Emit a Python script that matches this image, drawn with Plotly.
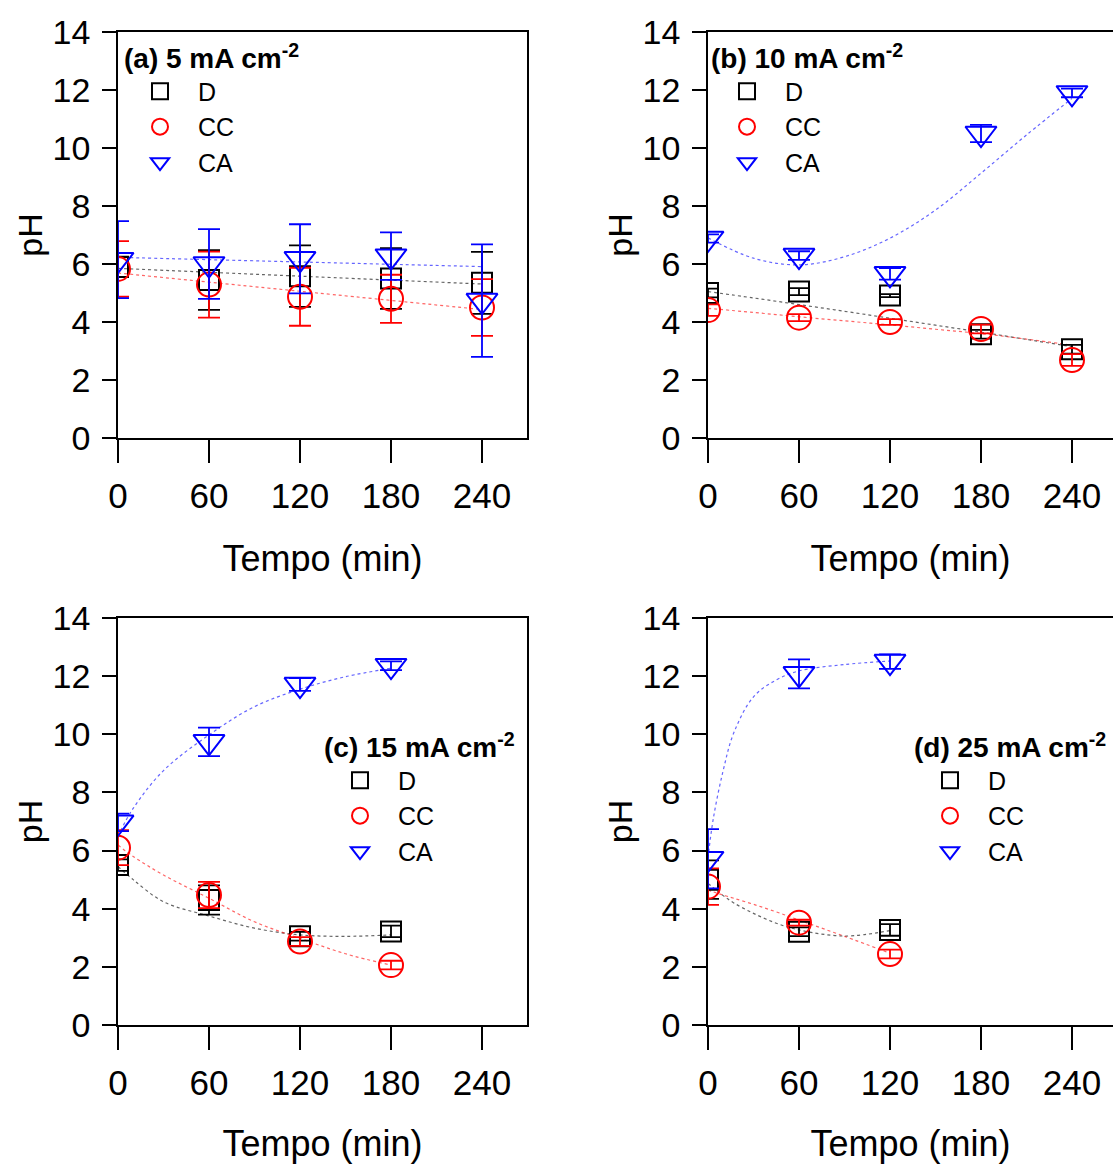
import plotly.graph_objects as go

# ---------------- data ----------------
t_a = [0, 60, 120, 180, 240]
t_b = [0, 60, 120, 180, 240]
t_c = [0, 60, 120, 180]
t_d = [0, 60, 120]

# (a) 5 mA cm-2
a_D = [5.90, 5.45, 5.58, 5.50, 5.35]
a_D_err = [0.35, 1.03, 1.06, 1.05, 1.07]
a_CC = [5.83, 5.29, 4.87, 4.80, 4.50]
a_CC_err = [0.96, 1.14, 1.00, 0.83, 0.98]
a_CA = [6.15, 6.00, 6.18, 6.27, 4.74]
a_CA_err = [1.33, 1.20, 1.19, 0.82, 1.94]

# (b) 10 mA cm-2
b_D = [5.00, 5.05, 4.91, 3.58, 3.06]
b_D_err = [0.15, 0.12, 0.05, 0.15, 0.15]
b_CC = [4.41, 4.15, 4.00, 3.76, 2.69]
b_CC_err = [0.20, 0.12, 0.10, 0.15, 0.20]
b_CA = [6.88, 6.29, 5.66, 10.50, 11.90]
b_CA_err = [0.14, 0.15, 0.20, 0.30, 0.15]

# (c) 15 mA cm-2
c_D = [5.50, 4.30, 3.05, 3.22]
c_D_err = [0.20, 0.50, 0.15, 0.20]
c_CC = [6.10, 4.47, 2.87, 2.06]
c_CC_err = [0.60, 0.45, 0.15, 0.15]
c_CA = [6.97, 9.74, 11.71, 12.36]
c_CA_err = [0.30, 0.49, 0.22, 0.15]

# (d) 25 mA cm-2
d_D = [5.00, 3.21, 3.27]
d_D_err = [0.66, 0.15, 0.20]
d_CC = [4.76, 3.52, 2.44]
d_CC_err = [0.63, 0.10, 0.15]
d_CA = [5.72, 12.08, 12.50]
d_CA_err = [1.02, 0.50, 0.25]

# fitted trend curves (time, pH)
a_fit_t = [0, 120, 240]
a_fit_D = [5.85, 5.58, 5.31]
a_fit_CC = [5.69, 5.06, 4.43]
a_fit_CA = [6.23, 6.07, 5.91]

b_fit_t = [0, 30, 60, 90, 120, 150, 180, 210, 240]
b_fit_D = [5.05, 4.83, 4.60, 4.37, 4.13, 3.89, 3.65, 3.40, 3.15]
b_fit_CC = [4.47, 4.33, 4.18, 4.04, 3.90, 3.75, 3.60, 3.41, 3.20]
b_fit_CA = [6.90, 6.20, 5.97, 6.25, 6.89, 7.86, 9.13, 10.45, 11.71]

c_fit_t = [0, 10, 30, 60, 90, 120, 150, 180]
c_fit_D = [5.45, 5.00, 4.24, 3.75, 3.33, 3.10, 3.05, 3.10]
c_fit_CC = [6.19, 5.80, 5.16, 4.36, 3.55, 2.98, 2.45, 2.06]
c_fit_CA = [6.50, 7.45, 8.75, 9.98, 10.95, 11.55, 11.98, 12.27]

d_fit_t = [0, 3.5, 10, 17, 30, 45, 60, 90, 120]
d_fit_D = [4.87, 4.72, 4.45, 4.20, 3.84, 3.50, 3.27, 3.06, 3.25]
d_fit_CC = [4.64, 4.58, 4.47, 4.36, 4.15, 3.89, 3.61, 3.05, 2.47]
d_fit_CA = [5.75, 7.10, 8.75, 10.05, 11.29, 11.87, 12.18, 12.40, 12.52]

series_names = ["D", "CC", "CA"]
colors = {"D": "#000000", "CC": "#FF0000", "CA": "#0000FF"}
symbols = {"D": "square-open", "CC": "circle-open", "CA": "triangle-down-open"}
sizes = {"D": 20, "CC": 24, "CA": 27}

panels = [
    dict(key="a", t=t_a, vals=[a_D, a_CC, a_CA], errs=[a_D_err, a_CC_err, a_CA_err],
         fit_t=a_fit_t, fits=[a_fit_D, a_fit_CC, a_fit_CA], title="(a) 5 mA cm<sup>-2</sup>"),
    dict(key="b", t=t_b, vals=[b_D, b_CC, b_CA], errs=[b_D_err, b_CC_err, b_CA_err],
         fit_t=b_fit_t, fits=[b_fit_D, b_fit_CC, b_fit_CA], title="(b) 10 mA cm<sup>-2</sup>"),
    dict(key="c", t=t_c, vals=[c_D, c_CC, c_CA], errs=[c_D_err, c_CC_err, c_CA_err],
         fit_t=c_fit_t, fits=[c_fit_D, c_fit_CC, c_fit_CA], title="(c) 15 mA cm<sup>-2</sup>"),
    dict(key="d", t=t_d, vals=[d_D, d_CC, d_CA], errs=[d_D_err, d_CC_err, d_CA_err],
         fit_t=d_fit_t, fits=[d_fit_D, d_fit_CC, d_fit_CA], title="(d) 25 mA cm<sup>-2</sup>"),
]

# ---------------- layout geometry (pixels) ----------------
W, H = 1113, 1164
FONT = "Liberation Sans, Arial, sans-serif"
PX_PER_MIN = 364 / 240.0

boxes = [  # left, right, top, bottom
    (118, 527, 32, 438),
    (708, 1113, 32, 438),
    (118, 527, 618, 1025),
    (708, 1113, 618, 1025),
]
legend_pos = [  # left, top
    (122, 32),
    (709, 32),
    (322, 721),
    (912, 721),
]

fig = go.Figure()

for i, p in enumerate(panels):
    n = "" if i == 0 else str(i + 1)
    xref, yref = "x" + n, "y" + n
    leg = "legend" + n
    for name, fit in zip(series_names, p["fits"]):
        fig.add_trace(go.Scatter(
            x=p["fit_t"], y=fit, xaxis=xref, yaxis=yref, mode="lines",
            line=dict(color=colors[name], width=1.2, dash="dot", shape="spline", smoothing=1.0),
            opacity=0.6, showlegend=False, hoverinfo="skip"))
    for name, v, e in zip(series_names, p["vals"], p["errs"]):
        fig.add_trace(go.Scatter(
            x=p["t"], y=v, xaxis=xref, yaxis=yref, mode="markers", name=name,
            legend=leg, legendgroup=p["key"] + name,
            marker=dict(symbol=symbols[name], size=sizes[name],
                        color=colors[name], line=dict(color=colors[name], width=2)),
            error_y=dict(type="data", array=e, visible=True, color=colors[name],
                         thickness=1.8, width=11)))

layout = dict(
    template="none",
    width=W, height=H, margin=dict(l=0, r=0, t=0, b=0, pad=0),
    paper_bgcolor="white", plot_bgcolor="white",
    font=dict(family=FONT, color="black"),
    showlegend=True,
)

for i, p in enumerate(panels):
    n = "" if i == 0 else str(i + 1)
    l, r, tp, bt = boxes[i]
    right_panel = i in (1, 3)
    xmax = (r - l) / PX_PER_MIN
    layout["xaxis" + n] = dict(
        domain=[l / W, r / W], range=[0, xmax], anchor="y" + n, automargin=False,
        tickvals=[0, 60, 120, 180, 240], ticks="outside", ticklen=23, tickwidth=1.5,
        tickcolor="black", showline=True, linecolor="black", linewidth=1.5, mirror=True,
        showgrid=False, zeroline=False, tickfont=dict(size=35, family=FONT),
        ticklabelstandoff=3,
        title=dict(text="Tempo (min)", font=dict(size=36, family=FONT), standoff=32),
    )
    layout["yaxis" + n] = dict(
        domain=[1 - bt / H, 1 - tp / H], range=[0, 14], anchor="x" + n, automargin=False,
        tickvals=[0, 2, 4, 6, 8, 10, 12, 14], ticks="outside", ticklen=14, tickwidth=1.5,
        tickcolor="black", showline=True, linecolor="black", linewidth=1.5,
        mirror=(not right_panel),
        showgrid=False, zeroline=False, tickfont=dict(size=34, family=FONT),
        ticklabelstandoff=5,
        title=dict(text="pH", font=dict(size=34, family=FONT), standoff=0),
    )
    lx, ly = legend_pos[i]
    layout["legend" + n] = dict(
        x=lx / W, y=1 - ly / H, xanchor="left", yanchor="top",
        bgcolor="rgba(0,0,0,0)", borderwidth=0,
        font=dict(size=25, family=FONT, color="black"),
        title=dict(text="<b>" + p["title"] + "</b>", font=dict(size=28, family=FONT)),
        itemwidth=66, tracegroupgap=0, traceorder="normal",
    )

fig.update_layout(**layout)
fig.write_html("out.html")
